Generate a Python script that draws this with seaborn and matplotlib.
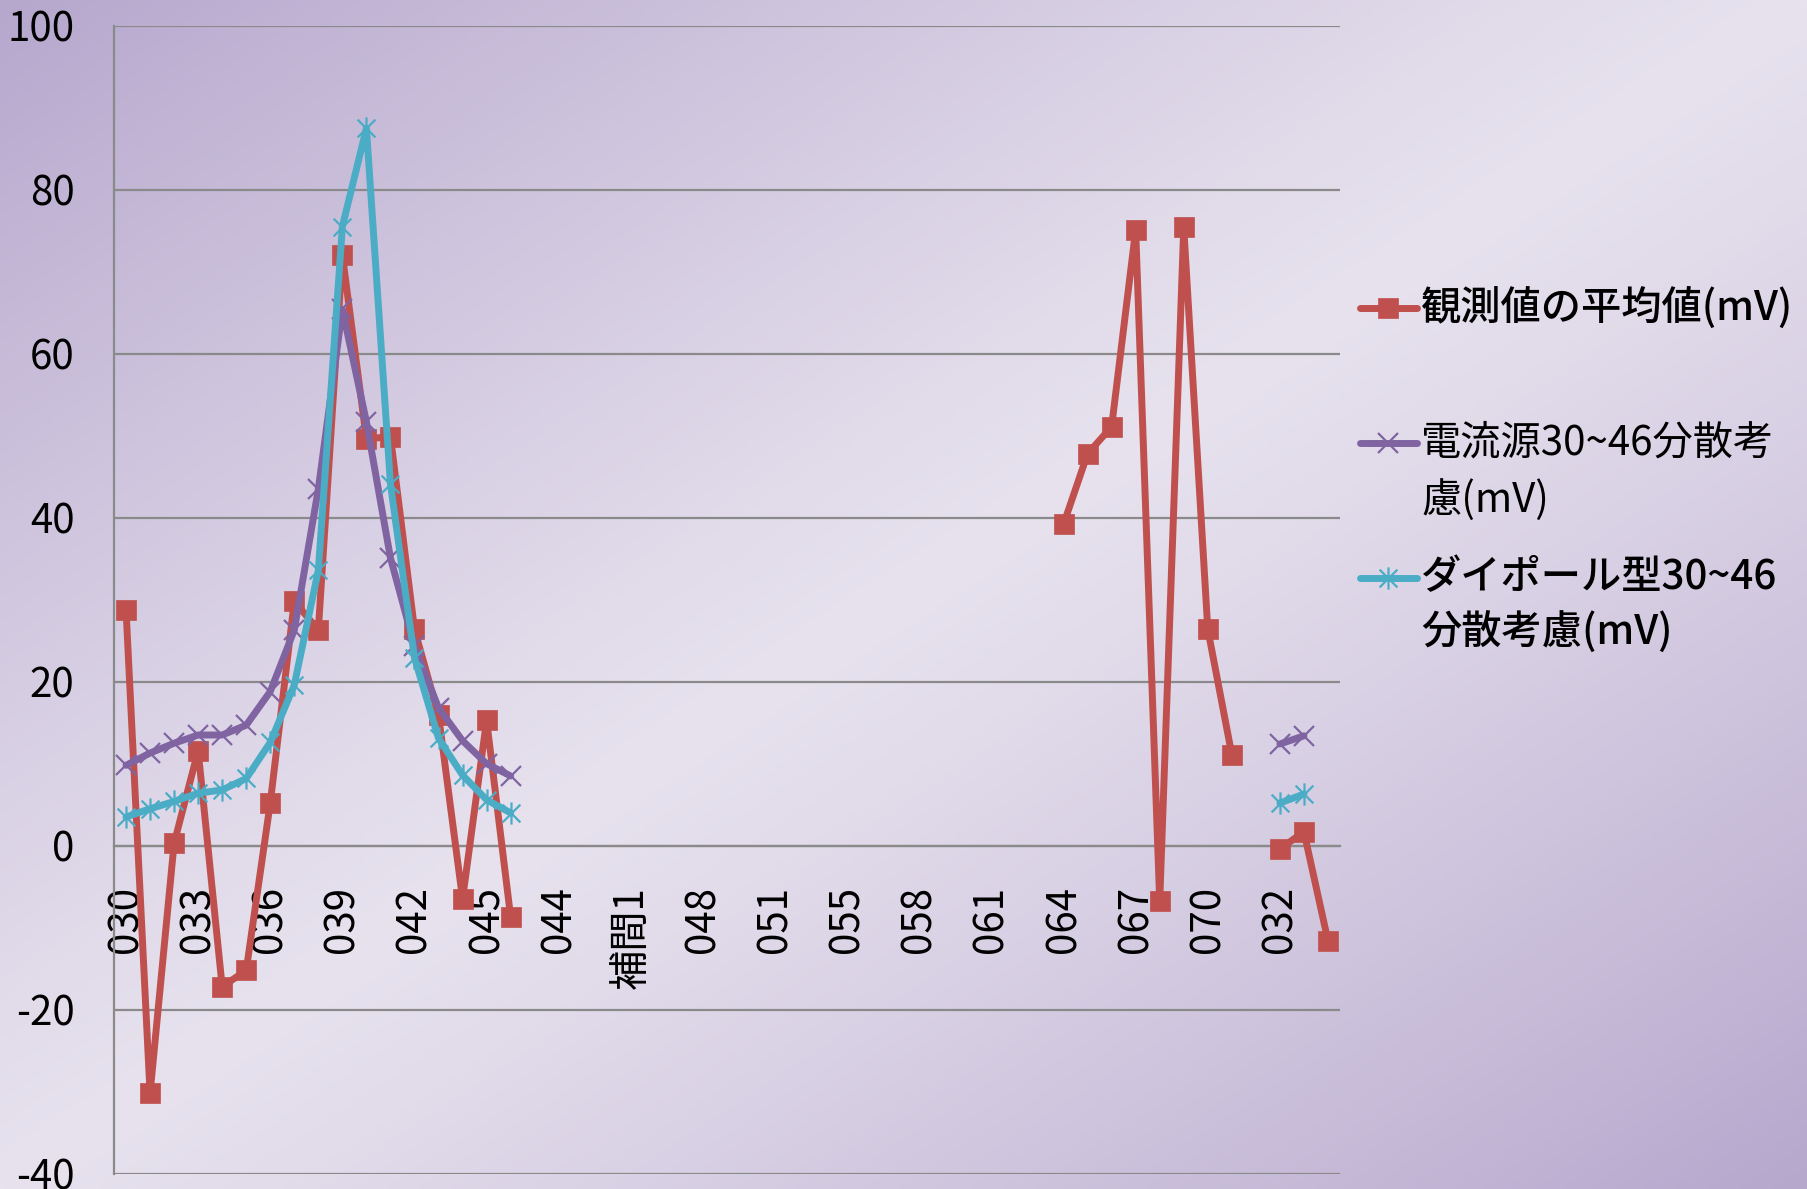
import numpy as np
import pandas as pd
import matplotlib
matplotlib.use("Agg")
import matplotlib.pyplot as plt
from matplotlib.lines import Line2D
from matplotlib.path import Path
import seaborn as sns

nan = np.nan

# ---------------- data ----------------
categories = (
    ["030", "031", "032", "033", "034", "035", "036", "037", "038", "039",
     "040", "041", "042", "043", "044", "045", "046", "043", "044", "045",
     "046", "補間1", "補間2", "047", "048", "049", "050", "051", "052", "054",
     "055", "056", "057", "058", "059", "060", "061", "062", "063", "064",
     "065", "066", "067", "068", "069", "070", "071", "031", "032", "033", "034"]
)

observed = ([28.8, -30.2, 0.3, 11.6, -17.2, -15.2, 5.2, 29.8, 26.3, 72.0,
             49.6, 49.9, 26.4, 15.9, -6.5, 15.3, -8.7]
            + [nan] * 22
            + [39.2, 47.8, 51.1, 75.1, -6.8, 75.4, 26.4, 11.1]
            + [nan]
            + [-0.4, 1.7, -11.6])

current_src = ([9.8, 11.3, 12.5, 13.5, 13.5, 14.7, 18.8, 26.3, 43.5, 65.4,
                51.7, 35.1, 24.3, 16.8, 12.8, 10.0, 8.5]
               + [nan] * 31
               + [12.4, 13.4]
               + [nan])

dipole = ([3.5, 4.5, 5.4, 6.4, 6.8, 8.2, 12.6, 19.6, 33.6, 75.5,
           87.5, 44.1, 22.9, 13.1, 8.6, 5.6, 4.0]
          + [nan] * 31
          + [5.2, 6.3]
          + [nan])

series_names = ["観測値の平均値(mV)", "電流源30~46分散考慮(mV)", "ダイポール型30~46分散考慮(mV)"]
legend_lines = [["観測値の平均値(mV)"],
                ["電流源30~46分散考", "慮(mV)"],
                ["ダイポール型30~46", "分散考慮(mV)"]]
ytick_values = [-40, -20, 0, 20, 40, 60, 80, 100]
ytick_labels = ["-40", "-20", "0", "20", "40", "60", "80", "100"]

# ---------------- style ----------------
sns.set_style("white")
plt.rcParams["font.family"] = ["Noto Sans CJK JP", "DejaVu Sans"]

RED = "#C0504D"
PURPLE = "#8064A2"
CYAN = "#4BACC6"
GRAY = "#8A8A8A"

W, H = 1808, 1189
fig = plt.figure(figsize=(W / 100, H / 100), dpi=100)

# background gradient (dark at top-left / bottom-right, light along the anti-diagonal)
xx, yy = np.meshgrid(np.linspace(0, 1, 400), np.linspace(0, 1, 300))
t = (xx + yy) / 2.0
d = np.abs(t - 0.5) * 2
light = np.array([231, 226, 238]) / 255.0
dark = np.array([182, 167, 205]) / 255.0
grad = light[None, None, :] + (dark - light)[None, None, :] * (d[..., None] ** 1.15)
bg = fig.add_axes([0, 0, 1, 1], zorder=-10)
bg.imshow(grad, aspect="auto", extent=[0, 1, 0, 1], origin="upper")
bg.axis("off")

ax = fig.add_axes([114 / W, 1 - 1173.7 / H, (1340 - 114) / W, (1173.7 - 25.7) / H])
ax.patch.set_alpha(0)

# build long data frame, splitting into segments at missing values
rows = []
for name, vals in zip(series_names, [observed, current_src, dipole]):
    seg = 0
    prev_nan = True
    for i, v in enumerate(vals):
        if np.isnan(v):
            prev_nan = True
            continue
        if prev_nan:
            seg += 1
            prev_nan = False
        rows.append({"series": name, "pos": i, "value": v, "seg": seg})
df = pd.DataFrame(rows)

star = Path([(-1, -1), (1, 1), (-1, 1), (1, -1), (0, -1.25), (0, 1.25)],
            [Path.MOVETO, Path.LINETO, Path.MOVETO, Path.LINETO, Path.MOVETO, Path.LINETO])

styles = {
    series_names[0]: dict(color=RED, marker="s", markersize=14, markeredgecolor=RED,
                          markerfacecolor=RED, markeredgewidth=0.5, linewidth=5),
    series_names[1]: dict(color=PURPLE, marker="x", markersize=14, markeredgecolor=PURPLE,
                          markeredgewidth=1.6, linewidth=5),
    series_names[2]: dict(color=CYAN, marker=star, markersize=16, markeredgecolor=CYAN,
                          markerfacecolor="none", markeredgewidth=1.6, linewidth=5),
}

for z, name in enumerate(series_names):
    sub = df[df["series"] == name]
    sns.lineplot(data=sub, x="pos", y="value", units="seg", estimator=None,
                 ax=ax, zorder=3 + z, legend=False, sort=True, **styles[name])

# axes
ax.set_xlim(-0.5, len(categories) - 0.5)
ax.set_ylim(-40, 100)
ax.set_xlabel("")
ax.set_ylabel("")

ax.set_yticks(ytick_values)
ax.set_yticklabels(ytick_labels)
ax.yaxis.grid(True, color=GRAY, linewidth=1.6, zorder=1)
ax.xaxis.grid(False)
ax.set_axisbelow(True)

major_pos = list(range(0, len(categories), 3))
ax.set_xticks(major_pos)
ax.set_xticklabels([categories[i] for i in major_pos])
ax.set_xticks(np.arange(-0.5, len(categories), 1), minor=True)

ax.tick_params(axis="y", which="major", length=9.5, width=1.6, color=GRAY,
               pad=19, labelsize=29, labelcolor="black")
ax.tick_params(axis="x", which="major", length=0, pad=29, labelsize=29,
               labelcolor="black", labelrotation=90)
ax.tick_params(axis="x", which="minor", length=9.5, width=1.6, color=GRAY, direction="out")
for lab in ax.get_xticklabels():
    lab.set_rotation(90)
    lab.set_va("top")
    lab.set_ha("center")

for s in ["top", "right"]:
    ax.spines[s].set_visible(False)
ax.spines["left"].set_color(GRAY)
ax.spines["left"].set_linewidth(1.6)
ax.spines["bottom"].set_position(("data", 0))
ax.spines["bottom"].set_color(GRAY)
ax.spines["bottom"].set_linewidth(1.6)

# legend (drawn manually so the key aligns with the first text line)
hx0, hx1 = 1360 / W, 1417 / W
tx = 1421 / W
entry_y = [[308], [443, 500], [578, 633]]
weights = ["medium", "normal", "medium"]
for name, lines, ys, wgt in zip(series_names, legend_lines, entry_y, weights):
    st = styles[name]
    y0 = 1 - ys[0] / H
    ln = Line2D([hx0, (hx0 + hx1) / 2, hx1], [y0, y0, y0], transform=fig.transFigure,
                color=st["color"], linewidth=5, marker=st["marker"], markevery=[1],
                markersize=st["markersize"], markeredgecolor=st["markeredgecolor"],
                markerfacecolor=st.get("markerfacecolor", st["color"]),
                markeredgewidth=st["markeredgewidth"])
    fig.add_artist(ln)
    for txt, yy_ in zip(lines, ys):
        fig.text(tx, 1 - yy_ / H, txt, ha="left", va="center", fontsize=29,
                 fontweight=wgt, color="black")

fig.savefig("out.png", dpi=100)
